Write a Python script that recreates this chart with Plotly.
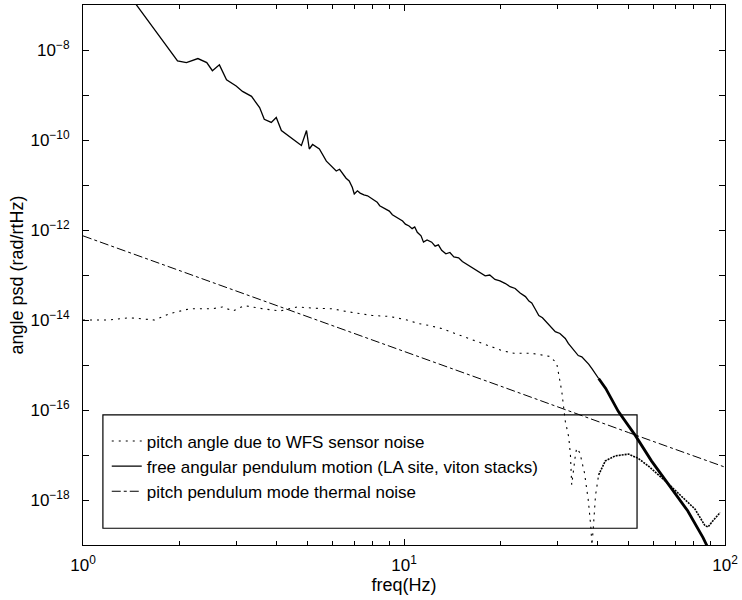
import plotly.graph_objects as go

# ---- data ----
motion_f = [1.40, 1.47, 1.70, 1.97, 2.10, 2.28, 2.43, 2.53, 2.66, 2.80, 3.00, 3.14, 3.35, 3.55,
            3.67, 3.86, 4.00, 4.15, 4.39, 4.79, 4.97, 5.07, 5.19, 5.45, 5.73, 5.95, 6.15, 6.30,
            6.45, 6.60, 6.75, 6.90, 7.00, 7.16, 7.30, 7.50, 7.70, 7.96, 8.10, 8.25, 8.40, 8.55,
            8.75, 9.00, 9.20, 9.44, 9.65, 9.90, 10.1, 10.37, 10.6, 10.8, 11.0, 11.3, 11.5, 11.8,
            12.2, 12.5, 12.8, 13.1, 13.5, 13.9, 14.3, 14.8, 15.2, 15.6, 16.1, 16.7, 17.2, 17.9,
            18.5, 19.2, 19.9, 20.7, 21.4, 22.2, 23.0, 23.9, 24.5, 25.0, 25.6, 26.3, 27.0, 27.8,
            28.7, 29.6, 30.6, 31.8, 32.5, 33.3, 34.1, 34.9, 35.8, 36.8, 37.6, 38.5, 39.4, 40.4]
motion_logpsd = [-6.80, -7.00, -7.62, -8.24, -8.28, -8.19, -8.28, -8.46, -8.33, -8.66, -8.80,
                 -8.92, -9.03, -9.28, -9.54, -9.61, -9.50, -9.79, -9.92, -10.12, -9.79, -10.20,
                 -10.10, -10.20, -10.47, -10.60, -10.69, -10.65, -10.76, -10.85, -10.91, -11.05,
                 -11.20, -11.13, -11.18, -11.22, -11.24, -11.31, -11.36, -11.38, -11.46, -11.49,
                 -11.52, -11.58, -11.66, -11.71, -11.74, -11.80, -11.87, -11.91, -11.97, -11.93,
                 -12.05, -12.13, -12.27, -12.22, -12.27, -12.36, -12.33, -12.45, -12.53, -12.50,
                 -12.60, -12.62, -12.70, -12.75, -12.80, -12.88, -12.93, -13.02, -13.00, -13.10,
                 -13.13, -13.19, -13.26, -13.30, -13.40, -13.48, -13.58, -13.62, -13.75, -13.90,
                 -13.95, -14.05, -14.15, -14.26, -14.30, -14.41, -14.52, -14.62, -14.70, -14.79,
                 -14.82, -14.90, -14.98, -15.08, -15.18, -15.30]
motion_hi_f = [40.4, 42.5, 46.5, 52.6, 59.0, 68.0, 76.5, 85.5, 89.0]
motion_hi_logpsd = [-15.30, -15.52, -16.03, -16.57, -17.13, -17.73, -18.24, -18.84, -19.10]

sensor_f = [1.0, 1.2, 1.4, 1.67, 1.86, 2.15, 2.53, 2.72, 2.93, 3.18, 3.63, 4.1, 4.65, 5.3, 5.97,
            6.6, 7.96, 8.98, 10.1, 11.1, 11.96, 13.1, 15.9, 17.5, 20.2, 22.0, 25.0, 28.5, 29.9,
            31.0, 31.8, 32.6, 33.0, 33.3, 33.7, 34.2, 34.5, 35.3, 36.5, 37.5, 38.2, 38.5, 38.9,
            39.5, 40.4]
sensor_logpsd = [-14.00, -14.00, -13.95, -14.00, -13.86, -13.75, -13.75, -13.71, -13.80, -13.68,
                 -13.75, -13.80, -13.71, -13.74, -13.75, -13.81, -13.90, -13.92, -13.99, -14.08,
                 -14.12, -14.19, -14.41, -14.52, -14.68, -14.74, -14.74, -14.81, -14.96, -15.58,
                 -16.25, -16.60, -17.00, -17.66, -17.30, -17.00, -16.85, -16.95, -17.40, -18.00,
                 -18.60, -19.00, -18.60, -17.90, -17.44]
sensor_hi_f = [40.4, 42.4, 45.5, 50.0, 53.5, 57.6, 65.0, 71.4, 80.6, 86.6, 88.5, 92.0, 96.5]
sensor_hi_logpsd = [-17.44, -17.13, -17.02, -16.98, -17.07, -17.24, -17.57, -17.84, -18.20,
                    -18.57, -18.60, -18.45, -18.28]

thermal_f = [1, 2, 5, 10, 20, 50, 100]
thermal_logpsd = [-12.13, -12.90, -13.93, -14.70, -15.47, -16.50, -17.27]

y_tick_exp = [-19, -18, -17, -16, -15, -14, -13, -12, -11, -10, -9, -8, -7]
x_tick_vals = [1, 10, 100]
x_tick_text = ["10<sup>0</sup>", "10<sup>1</sup>", "10<sup>2</sup>"]

names = ["pitch angle due to WFS sensor noise",
         "free angular pendulum motion (LA site, viton stacks)",
         "pitch pendulum mode thermal noise"]

def lin(v):
    return [10 ** e for e in v]

fig = go.Figure()
fig.add_trace(go.Scatter(x=sensor_f, y=lin(sensor_logpsd), mode="lines", name=names[0],
                         legendgroup="s",
                         line=dict(color="black", width=1.1, dash="2px,5px")))
fig.add_trace(go.Scatter(x=sensor_hi_f, y=lin(sensor_hi_logpsd), mode="lines", name=names[0],
                         legendgroup="s", showlegend=False,
                         line=dict(color="black", width=1.6, dash="2px,1px")))
fig.add_trace(go.Scatter(x=motion_f, y=lin(motion_logpsd), mode="lines", name=names[1],
                         legendgroup="m", line=dict(color="black", width=1.3)))
fig.add_trace(go.Scatter(x=motion_hi_f, y=lin(motion_hi_logpsd), mode="lines", name=names[1],
                         legendgroup="m", showlegend=False, line=dict(color="black", width=2.8)))
fig.add_trace(go.Scatter(x=thermal_f, y=lin(thermal_logpsd), mode="lines", name=names[2],
                         line=dict(color="black", width=1, dash="dashdot")))

font = "Liberation Sans, Arial, Helvetica, sans-serif"
y_tick_vals = [10 ** e for e in y_tick_exp]
y_tick_text = [("10<sup>\u2212%d</sup>" % -e) if (e % 2 == 0 and -18 <= e <= -8) else ""
               for e in y_tick_exp]

minor_x = [m * d for d in (1, 10) for m in range(2, 10)]

fig.update_layout(
    width=742, height=600,
    margin=dict(l=83, r=17, t=5, b=55),
    paper_bgcolor="white", plot_bgcolor="white",
    font=dict(family=font, color="black", size=15),
    showlegend=True,
    legend=dict(x=0.037, y=0.225, xanchor="left", yanchor="top",
                bgcolor="rgba(0,0,0,0)", borderwidth=0,
                font=dict(family=font, size=17, color="black"),
                itemwidth=30, tracegroupgap=0),
    xaxis=dict(type="log", range=[0, 2], showgrid=False, zeroline=False,
               showline=True, linecolor="black", linewidth=1, mirror="ticks",
               ticks="inside", ticklen=6, tickcolor="black",
               tickmode="array", tickvals=x_tick_vals, ticktext=x_tick_text,
               tickfont=dict(size=17), ticklabelstandoff=5,
               minor=dict(ticks="inside", ticklen=4, tickcolor="black",
                          tickmode="array", tickvals=minor_x, showgrid=False),
               title=dict(text="freq(Hz)", font=dict(size=18), standoff=2)),
    yaxis=dict(type="log", range=[-19, -7], showgrid=False, zeroline=False,
               showline=True, linecolor="black", linewidth=1, mirror="ticks",
               ticks="inside", ticklen=6, tickcolor="black",
               tickmode="array", tickvals=y_tick_vals, ticktext=y_tick_text,
               tickfont=dict(size=17), ticklabelstandoff=9,
               title=dict(text="angle psd (rad/rtHz)", font=dict(size=18), standoff=2)),
    shapes=[dict(type="rect", xref="paper", yref="paper",
                 x0=0.031, x1=0.863, y0=0.031, y1=0.241,
                 line=dict(color="black", width=1.2), fillcolor="rgba(0,0,0,0)")],
)

fig.write_html("out.html")
